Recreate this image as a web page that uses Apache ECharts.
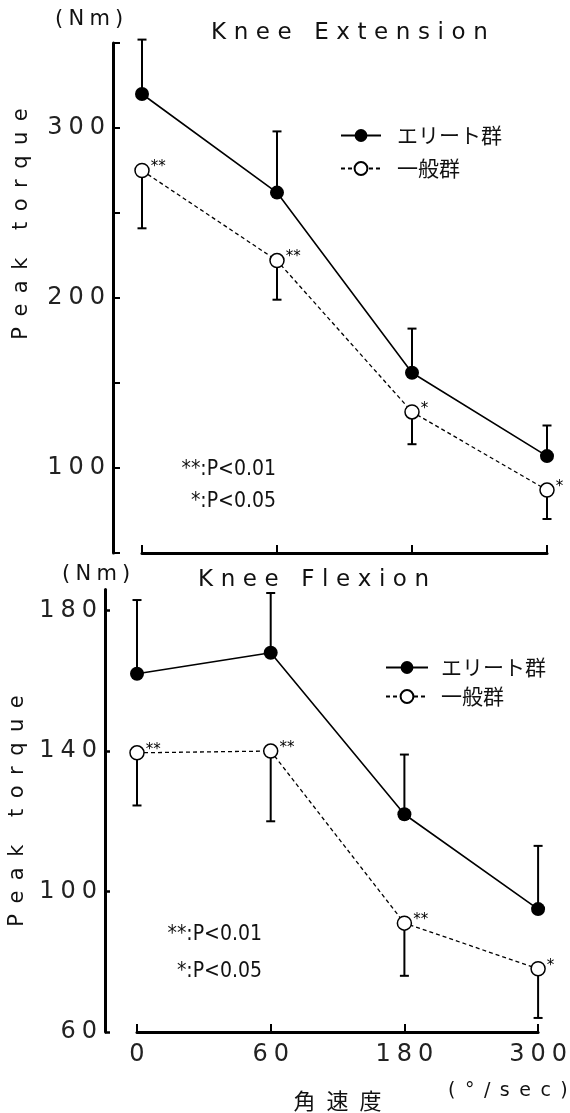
<!DOCTYPE html>
<html><head><meta charset="utf-8">
<script src="https://cdn.jsdelivr.net/npm/echarts@6/dist/echarts.min.js"></script>
<style>html,body{margin:0;padding:0;background:#fff}#c{width:570px;height:1113px}</style>
</head><body><div id="c"></div>
<script>
// ---- data ----
const categories = ['0', '60', '180', '300'];
const seriesNames = ['エリート群', '一般群'];
// Knee Extension
const extElite = [320, 262, 156, 107];
const extEliteSD = [32, 36, 26, 18];
const extGeneral = [275, 222, 133, 87];
const extGeneralSD = [34, 23, 19, 17];
const extSig = ['**', '**', '*', '*'];
const extTickLabels = [100, 200, 300];
// Knee Flexion
const flxElite = [162, 168, 122, 95];
const flxEliteSD = [21, 17, 17, 18];
const flxGeneral = [139.5, 140, 91, 78];
const flxGeneralSD = [15, 20, 15, 14];
const flxSig = ['**', '**', '**', '*'];
const flxTickLabels = [60, 100, 140, 180];
// texts
const titles = ['Knee Extension', 'Knee Flexion'];
const yName = 'Peak torque';
const unitY = '(Nm)';
const xName = '角速度';
const unitX = '(° /sec)';
const sigNotes = ['**:P<0.01', '*:P<0.05'];

// ---- helpers ----
const EN = '\u2002';   // en space
const THIRD = '\u2004'; // three-per-em space
const QUART = '\u2005'; // four-per-em space
const sp = (s, g) => String(s).split('').join(g || EN);
const LAT = "'DejaVu Sans', sans-serif";
const JP = "'Noto Sans CJK JP', sans-serif";
const NARROW = "'Liberation Sans Narrow', 'DejaVu Sans Condensed', sans-serif";

function errRender(params, api) {
  const i = api.value(0);
  const p0 = api.coord([i, api.value(1)]);
  const p1 = api.coord([i, api.value(2)]);
  const w = 4.5;
  return {
    type: 'group',
    children: [
      { type: 'line', shape: { x1: p0[0], y1: p0[1], x2: p1[0], y2: p1[1] }, style: { stroke: '#000', lineWidth: 2 } },
      { type: 'line', shape: { x1: p1[0] - w, y1: p1[1], x2: p1[0] + w, y2: p1[1] }, style: { stroke: '#000', lineWidth: 2 } }
    ]
  };
}

function errData(mean, sd, dir) {
  return categories.map((c, i) => [i, mean[i], mean[i] + dir * sd[i]]);
}

function seriesFor(k, elite, eliteSD, general, generalSD, sig) {
  return [
    {
      type: 'custom', name: 'err-e' + k, xAxisIndex: k, yAxisIndex: k, z: 1,
      renderItem: errRender, data: errData(elite, eliteSD, 1),
      encode: { x: 0, y: [1, 2] }, silent: true
    },
    {
      type: 'custom', name: 'err-g' + k, xAxisIndex: k, yAxisIndex: k, z: 1,
      renderItem: errRender, data: errData(general, generalSD, -1),
      encode: { x: 0, y: [1, 2] }, silent: true
    },
    {
      type: 'line', name: seriesNames[0], xAxisIndex: k, yAxisIndex: k, z: 3,
      data: elite, symbol: 'circle', symbolSize: 14,
      itemStyle: { color: '#000' },
      lineStyle: { color: '#000', width: 1.6 }
    },
    {
      type: 'line', name: seriesNames[1], xAxisIndex: k, yAxisIndex: k, z: 4,
      data: general, symbol: 'circle', symbolSize: 14,
      itemStyle: { color: '#fff', borderColor: '#000', borderWidth: 1.5 },
      lineStyle: { color: '#000', width: 1.3, type: [4, 3] },
      label: {
        show: true, position: 'right', distance: 1, offset: [0, -3],
        formatter: (p) => sig[p.dataIndex],
        fontSize: 15, color: '#000', fontFamily: LAT
      }
    }
  ];
}

const axisLineStyle = { color: '#000', width: 3 };
const labelStyle = { fontSize: 24, color: '#222', fontFamily: LAT, fontWeight: 'normal' };
const tickFmt = (v) => sp(v, QUART);

const option = {
  animation: false,
  backgroundColor: '#fff',
  title: [
    { text: sp(titles[0], THIRD), left: 206, top: 17,
      textStyle: { fontSize: 23, fontWeight: 'normal', color: '#111', fontFamily: LAT } },
    { text: sp(titles[1], THIRD), left: 193, top: 564,
      textStyle: { fontSize: 23, fontWeight: 'normal', color: '#111', fontFamily: LAT } }
  ],
  legend: [
    { data: seriesNames, orient: 'vertical', left: 335, top: 120, itemWidth: 40, itemHeight: 16, itemGap: 12,
      textStyle: { fontSize: 21, color: '#111', fontFamily: JP, padding: [0, 0, 0, 11] } },
    { data: seriesNames, orient: 'vertical', left: 380, top: 652, itemWidth: 42, itemHeight: 16, itemGap: 8,
      textStyle: { fontSize: 21, color: '#111', fontFamily: JP, padding: [0, 0, 0, 8] } }
  ],
  grid: [
    { left: 142, top: 43, width: 405, height: 510 },
    { left: 137, top: 589.5, width: 406, height: 451.5 }
  ],
  xAxis: [
    { type: 'category', gridIndex: 0, data: categories, boundaryGap: false,
      axisLine: { lineStyle: axisLineStyle },
      axisTick: { inside: true, length: 8, lineStyle: { width: 2, color: '#000' } },
      axisLabel: { show: false }, splitLine: { show: false } },
    { type: 'category', gridIndex: 1, data: categories, boundaryGap: false,
      axisLine: { lineStyle: axisLineStyle },
      axisTick: { inside: true, length: 8, lineStyle: { width: 2, color: '#000' } },
      axisLabel: Object.assign({ margin: 11, formatter: tickFmt }, labelStyle),
      name: sp(xName), nameLocation: 'middle', nameGap: 58,
      nameTextStyle: { fontSize: 22, color: '#111', fontFamily: JP },
      splitLine: { show: false } }
  ],
  yAxis: [
    { type: 'value', gridIndex: 0, min: 50, max: 350, interval: 50, offset: 29,
      axisLine: { show: true, lineStyle: axisLineStyle },
      axisTick: { show: true, inside: true, length: 7, lineStyle: { width: 2, color: '#000' } },
      axisLabel: Object.assign({ margin: 8, formatter: (v) => extTickLabels.includes(v) ? tickFmt(v) : '' }, labelStyle),
      splitLine: { show: false } },
    { type: 'value', gridIndex: 1, min: 60, max: 186, offset: 32,
      axisLine: { show: true, lineStyle: axisLineStyle },
      axisTick: { show: true, inside: true, length: 5, lineStyle: { width: 2.5, color: '#000' }, customValues: flxTickLabels },
      axisLabel: Object.assign({ margin: 8, customValues: flxTickLabels, formatter: tickFmt }, labelStyle),
      splitLine: { show: false } }
  ],
  graphic: [
    { type: 'text', x: 22, y: 224, rotation: Math.PI / 2,
      style: { text: sp(yName), align: 'center', verticalAlign: 'middle', fontSize: 21, fill: '#111', fontFamily: LAT } },
    { type: 'text', x: 18, y: 811, rotation: Math.PI / 2,
      style: { text: sp(yName), align: 'center', verticalAlign: 'middle', fontSize: 21, fill: '#111', fontFamily: LAT } },
    { type: 'text', x: 55, y: 20, style: { text: sp(unitY, QUART), align: 'left', verticalAlign: 'middle', fontSize: 21, fill: '#111', fontFamily: LAT } },
    { type: 'text', x: 62, y: 575, style: { text: sp(unitY, QUART), align: 'left', verticalAlign: 'middle', fontSize: 21, fill: '#111', fontFamily: LAT } },
    { type: 'text', x: 448, y: 1091, style: { text: sp(unitX).replace(EN + ' ' + EN, EN), align: 'left', verticalAlign: 'middle', fontSize: 19, fill: '#111', fontFamily: LAT } },
    { type: 'text', x: 276, y: 470, style: { text: sigNotes[0], align: 'right', verticalAlign: 'middle', fontSize: 21, fill: '#111', fontFamily: NARROW } },
    { type: 'text', x: 276, y: 502, style: { text: sigNotes[1], align: 'right', verticalAlign: 'middle', fontSize: 21, fill: '#111', fontFamily: NARROW } },
    { type: 'text', x: 262, y: 935, style: { text: sigNotes[0], align: 'right', verticalAlign: 'middle', fontSize: 21, fill: '#111', fontFamily: NARROW } },
    { type: 'text', x: 262, y: 972, style: { text: sigNotes[1], align: 'right', verticalAlign: 'middle', fontSize: 21, fill: '#111', fontFamily: NARROW } }
  ],
  series: [].concat(
    seriesFor(0, extElite, extEliteSD, extGeneral, extGeneralSD, extSig),
    seriesFor(1, flxElite, flxEliteSD, flxGeneral, flxGeneralSD, flxSig)
  )
};

const chart = echarts.init(document.getElementById('c'), null, { renderer: 'canvas' });
chart.setOption(option);
</script>
</body></html>
